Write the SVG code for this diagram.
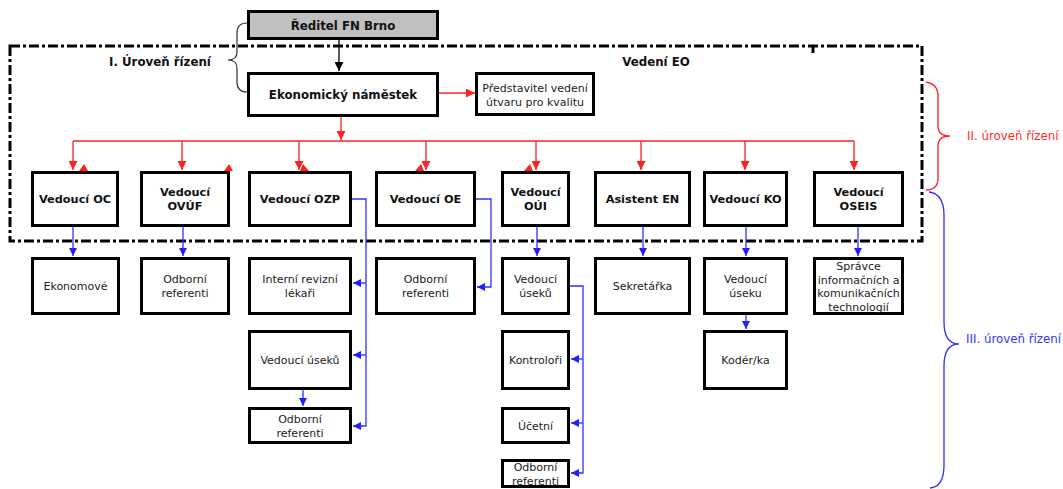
<svg xmlns="http://www.w3.org/2000/svg" width="1063" height="489" viewBox="0 0 1063 489">
<style>
.box{fill:#fff;stroke:#000;stroke-width:3}
.gray{fill:#c0c0c0;stroke:#000;stroke-width:3}
.b{font-family:"DejaVu Sans",Verdana,sans-serif;font-weight:bold;font-size:11.3px;fill:#111;text-anchor:middle}
.bt{font-family:"DejaVu Sans",Verdana,sans-serif;font-weight:bold;font-size:11.8px;fill:#111;text-anchor:middle}
.r{font-family:"DejaVu Sans",Verdana,sans-serif;font-size:11px;fill:#222;text-anchor:middle}
.red{stroke:#ff2020;stroke-width:1.3;fill:none}
.blue{stroke:#3030ff;stroke-width:1.3;fill:none}
.frame{fill:none;stroke:#000;stroke-width:3;stroke-dasharray:10 3 3 3}
</style>
<defs>
<marker id="ar" viewBox="0 0 10 10" refX="10" refY="5" markerWidth="9" markerHeight="9" markerUnits="userSpaceOnUse" orient="auto"><path d="M0,0 L10,5 L0,10 z" fill="#ff2020"/></marker>
<marker id="ab" viewBox="0 0 10 10" refX="10" refY="5" markerWidth="8" markerHeight="8" markerUnits="userSpaceOnUse" orient="auto"><path d="M0,0 L10,5 L0,10 z" fill="#2020ff"/></marker>
<marker id="ak" viewBox="0 0 10 10" refX="10" refY="5" markerWidth="9" markerHeight="9" markerUnits="userSpaceOnUse" orient="auto"><path d="M0,0 L10,5 L0,10 z" fill="#000"/></marker>
</defs>
<rect width="1063" height="489" fill="#fff"/>

<g id="frame">
<path class="frame" d="M10,46 H922 V241 H10 Z"/>
<path d="M813,46 V53" stroke="#000" stroke-width="3"/>
</g>

<g id="braces">
<path d="M247,23 Q237,23 237,33 L237,52 Q237,60 228,60 Q237,60 237,68 L237,82 Q237,92 247,92" fill="none" stroke="#333" stroke-width="1.2"/>
<text class="bt" x="160" y="66">I. Úroveň řízení</text>
<text class="bt" x="656" y="66">Vedení EO</text>
<path d="M926,82 Q938,84 938,96 L938,126 Q938,136 950,136 Q938,136 938,146 L938,178 Q938,190 926,190" fill="none" stroke="#ff2020" stroke-width="1.3"/>
<text x="967" y="140" font-family="DejaVu Sans, Verdana, sans-serif" font-size="11.8" fill="#ff2a2a">II. úroveň řízení</text>
<path d="M929,192 Q944,194 944,215 L944,322 Q944,344 959,344 Q944,344 944,366 L944,465 Q944,487 930,488" fill="none" stroke="#3030ff" stroke-width="1.3"/>
<text x="966" y="343" font-family="DejaVu Sans, Verdana, sans-serif" font-size="11.8" fill="#3333ff">III. úroveň řízení</text>
</g>

<g id="connectors">
<path d="M339,40 V71" stroke="#000" stroke-width="1.3" marker-end="url(#ak)"/>
<path class="red" d="M341,117 V140" marker-end="url(#ar)"/>
<path class="red" d="M439,93 H475" marker-end="url(#ar)"/>
<path class="red" d="M73,141 H854"/>
<path class="red" d="M73,141 V170" marker-end="url(#ar)"/>
<path class="red" d="M182,141 V170" marker-end="url(#ar)"/>
<path class="red" d="M299,141 V170" marker-end="url(#ar)"/>
<path class="red" d="M426,141 V170" marker-end="url(#ar)"/>
<path class="red" d="M536,141 V170" marker-end="url(#ar)"/>
<path class="red" d="M641,141 V170" marker-end="url(#ar)"/>
<path class="red" d="M745,141 V170" marker-end="url(#ar)"/>
<path class="red" d="M854,141 V170" marker-end="url(#ar)"/>
<g fill="#ff2020">
<path d="M79,171 L88,171 L84,164 Z"/>
<path d="M224,171 L233,171 L229,164 Z"/>
<path d="M300,171 L309,171 L303,164 Z"/>
<path d="M415,171 L424,171 L421,164 Z"/>
<path d="M524,171 L533,171 L530,164 Z"/>
</g>
<path class="blue" d="M73,227 V256" marker-end="url(#ab)"/>
<path class="blue" d="M183,227 V256" marker-end="url(#ab)"/>
<path class="blue" d="M537,227 V256" marker-end="url(#ab)"/>
<path class="blue" d="M643,227 V256" marker-end="url(#ab)"/>
<path class="blue" d="M746,227 V256" marker-end="url(#ab)"/>
<path class="blue" d="M858,227 V256" marker-end="url(#ab)"/>
<path class="blue" d="M352,199 H366 V426 H353" marker-end="url(#ab)"/>
<path class="blue" d="M366,283 H353" marker-end="url(#ab)"/>
<path class="blue" d="M366,355 H353" marker-end="url(#ab)"/>
<path class="blue" d="M303,390 V406" marker-end="url(#ab)"/>
<path class="blue" d="M476,199 H491 V287 H477" marker-end="url(#ab)"/>
<path class="blue" d="M570,286 H583 V473 H571" marker-end="url(#ab)"/>
<path class="blue" d="M583,359 H571" marker-end="url(#ab)"/>
<path class="blue" d="M583,423 H571" marker-end="url(#ab)"/>
<path class="blue" d="M746,315 V329" marker-end="url(#ab)"/>
</g>

<g id="reditel"><rect class="gray" x="248.5" y="11.5" width="189" height="27"/><text class="bt" x="343" y="30">Ředitel FN Brno</text></g>
<g id="namestek"><rect class="box" x="248.5" y="73.5" width="189" height="42"/><text class="bt" x="343" y="99">Ekonomický náměstek</text></g>
<g id="kvalita"><rect class="box" x="476.5" y="73.5" width="117" height="41"/><text class="r" x="535" y="92">Představitel vedení</text><text class="r" x="535" y="106">útvaru pro kvalitu</text></g>

<g id="oc"><rect class="box" x="32.5" y="172.5" width="85" height="53"/><text class="b" x="75" y="203">Vedoucí OC</text></g>
<g id="ovuf"><rect class="box" x="141.5" y="172.5" width="87" height="53"/><text class="b" x="185" y="196">Vedoucí</text><text class="b" x="185" y="210">OVÚF</text></g>
<g id="ozp"><rect class="box" x="249.5" y="172.5" width="101" height="53"/><text class="b" x="300" y="203">Vedoucí OZP</text></g>
<g id="oe"><rect class="box" x="376.5" y="172.5" width="98" height="53"/><text class="b" x="425.5" y="203">Vedoucí OE</text></g>
<g id="oui"><rect class="box" x="502.5" y="172.5" width="66" height="53"/><text class="b" x="535.5" y="196">Vedoucí</text><text class="b" x="535.5" y="210">OÚI</text></g>
<g id="en"><rect class="box" x="595.5" y="172.5" width="94" height="53"/><text class="b" x="642.5" y="203">Asistent EN</text></g>
<g id="ko"><rect class="box" x="704.5" y="172.5" width="82" height="53"/><text class="b" x="745.5" y="203">Vedoucí KO</text></g>
<g id="oseis"><rect class="box" x="814.5" y="172.5" width="88" height="53"/><text class="b" x="858.5" y="196">Vedoucí</text><text class="b" x="858.5" y="210">OSEIS</text></g>

<g id="ekonomove"><rect class="box" x="32.5" y="258.5" width="86" height="55"/><text class="r" x="75.5" y="290">Ekonomové</text></g>
<g id="ovuf-ref"><rect class="box" x="141.5" y="258.5" width="87" height="55"/><text class="r" x="185" y="283">Odborní</text><text class="r" x="185" y="297">referenti</text></g>
<g id="irl"><rect class="box" x="249.5" y="258.5" width="101" height="55"/><text class="r" x="300" y="283">Interní revizní</text><text class="r" x="300" y="297">lékaři</text></g>
<g id="oe-ref"><rect class="box" x="376.5" y="258.5" width="98" height="55"/><text class="r" x="425.5" y="283">Odborní</text><text class="r" x="425.5" y="297">referenti</text></g>
<g id="oui-vu"><rect class="box" x="502.5" y="258.5" width="66" height="55"/><text class="r" x="535.5" y="283">Vedoucí</text><text class="r" x="535.5" y="297">úseků</text></g>
<g id="sekretarka"><rect class="box" x="595.5" y="258.5" width="94" height="55"/><text class="r" x="642.5" y="290">Sekretářka</text></g>
<g id="ko-vu"><rect class="box" x="704.5" y="258.5" width="82" height="55"/><text class="r" x="745.5" y="283">Vedoucí</text><text class="r" x="745.5" y="297">úseku</text></g>
<g id="spravce"><rect class="box" x="814.5" y="258.5" width="88" height="55"/><text class="r" x="858.5" y="270">Správce</text><text class="r" x="858.5" y="283.5">informačních a</text><text class="r" x="858.5" y="297">komunikačních</text><text class="r" x="858.5" y="310.5">technologií</text></g>

<g id="ozp-vu"><rect class="box" x="249.5" y="331.5" width="101" height="57"/><text class="r" x="300" y="364">Vedoucí úseků</text></g>
<g id="kontrolori"><rect class="box" x="502.5" y="331.5" width="66" height="57"/><text class="r" x="535.5" y="364">Kontroloři</text></g>
<g id="koderka"><rect class="box" x="704.5" y="331.5" width="82" height="57"/><text class="r" x="745.5" y="364">Kodér/ka</text></g>

<g id="ozp-ref"><rect class="box" x="249.5" y="408.5" width="101" height="34"/><text class="r" x="300" y="423">Odborní</text><text class="r" x="300" y="437">referenti</text></g>
<g id="ucetni"><rect class="box" x="502.5" y="408.5" width="66" height="34"/><text class="r" x="535.5" y="430">Účetní</text></g>
<g id="oui-ref"><rect class="box" x="502.5" y="460.5" width="66" height="26"/><text class="r" x="535.5" y="471">Odborní</text><text class="r" x="535.5" y="485">referenti</text></g>
</svg>
